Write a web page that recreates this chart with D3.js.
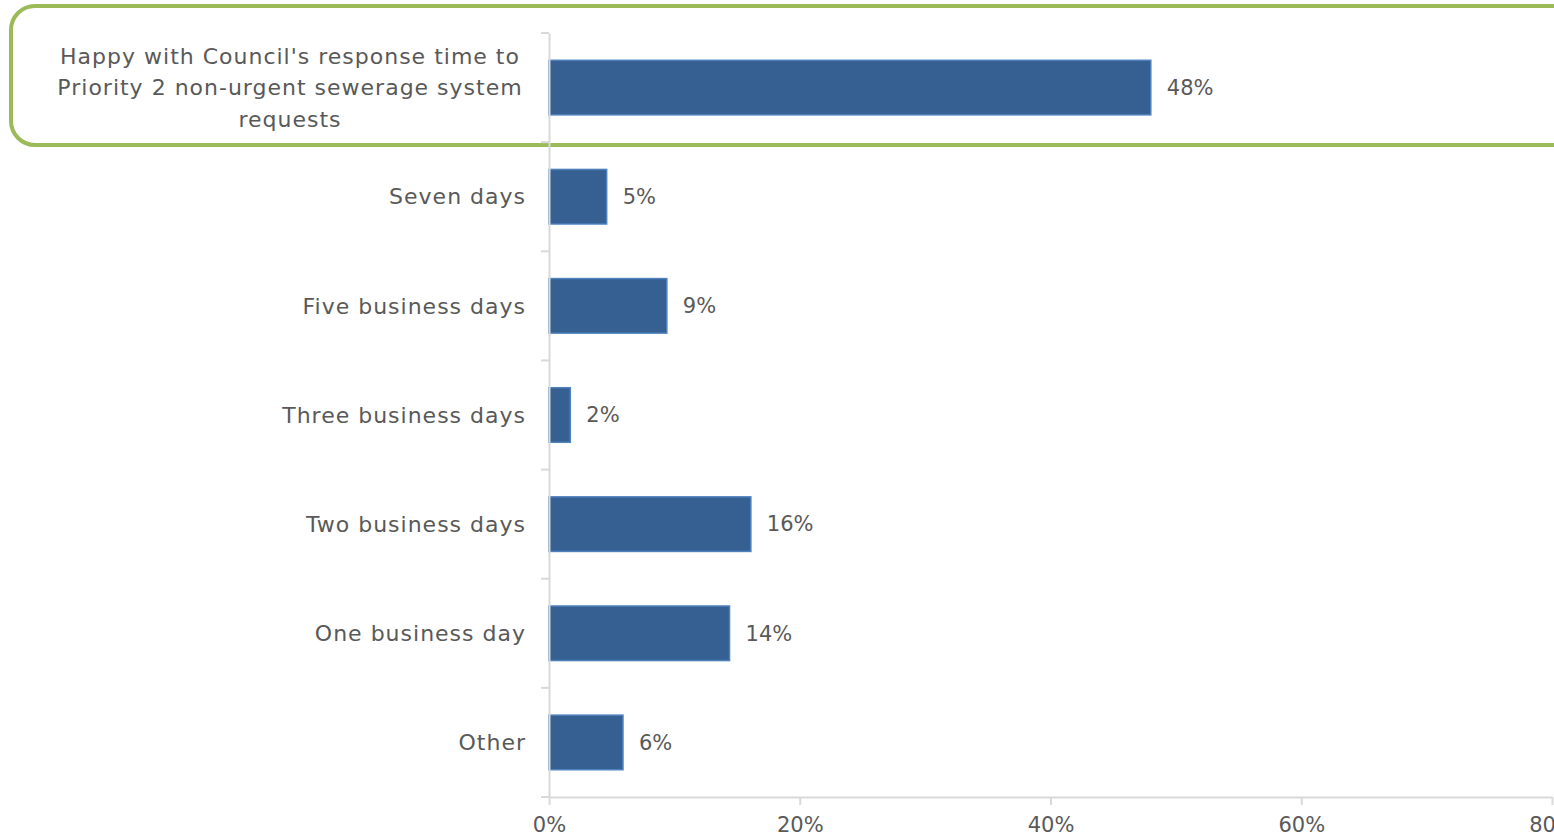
<!DOCTYPE html>
<html>
<head>
<meta charset="utf-8">
<script src="https://cdn.jsdelivr.net/npm/d3@7"></script>
<style>
  html, body { margin: 0; padding: 0; background: #fff; }
  svg { display: block; }
  text { font-family: "DejaVu Sans", sans-serif; fill: #595959; }
</style>
</head>
<body>
<svg id="chart" width="1554" height="838"></svg>
<script>
// Survey responses: preferred response time for Priority 2 non-urgent sewerage requests
const categories = [
  "Happy with Council's response time to Priority 2 non-urgent sewerage system requests",
  "Seven days",
  "Five business days",
  "Three business days",
  "Two business days",
  "One business day",
  "Other"
];
const values = [48.0, 4.6, 9.4, 1.7, 16.1, 14.4, 5.9];
const xTicks = [0, 20, 40, 60, 80];
const highlighted = categories[0];

const svg = d3.select("#chart");
const W = 1554, H = 838;
const margin = { left: 549, right: 2, top: 33, bottom: 41 };
const FONT = "21px";

const x = d3.scaleLinear().domain([0, 80]).range([margin.left, W - margin.right]);
const y = d3.scaleBand().domain(categories)
  .range([margin.top, H - margin.bottom])
  .paddingInner(0.5).paddingOuter(0.25);

// highlight frame around the first row
svg.append("rect")
  .attr("x", 11).attr("y", 6)
  .attr("width", W + 30).attr("height", 139)
  .attr("rx", 24).attr("ry", 24)
  .attr("fill", "none")
  .attr("stroke", "#9BBB59")
  .attr("stroke-width", 4);

// bars
svg.append("g").selectAll("rect")
  .data(categories)
  .join("rect")
  .attr("x", x(0))
  .attr("y", d => y(d))
  .attr("width", (d, i) => x(values[i]) - x(0))
  .attr("height", y.bandwidth())
  .attr("fill", "#366092")
  .attr("stroke", "#4F81BD")
  .attr("stroke-width", 1.5);

// value labels
svg.append("g").selectAll("text")
  .data(categories)
  .join("text")
  .attr("x", (d, i) => x(values[i]) + 16)
  .attr("y", d => y(d) + y.bandwidth() / 2)
  .attr("dy", "0.35em")
  .style("font-size", FONT)
  .text((d, i) => Math.round(values[i]) + "%");

// category axis
const yAxis = d3.axisLeft(y).tickSize(0).tickFormat("");
const gy = svg.append("g").attr("transform", `translate(${x(0)},0)`).call(yAxis);
gy.select(".domain").attr("stroke", "#D9D9D9").attr("stroke-width", 2);
// band separators
const sep = d3.range(categories.length + 1).map(i => margin.top + i * y.step());
svg.append("g").selectAll("line").data(sep).join("line")
  .attr("x1", x(0) - 8).attr("x2", x(0))
  .attr("y1", d => d).attr("y2", d => d)
  .attr("stroke", "#D9D9D9").attr("stroke-width", 2);

// category labels (wrapped, right-aligned; multi-line centered)
const lineH = 31.5;
function wrapLines(txt) {
  if (txt === highlighted) {
    return ["Happy with Council's response time to", "Priority 2 non-urgent sewerage system", "requests"];
  }
  return [txt];
}
categories.forEach(c => {
  const lines = wrapLines(c);
  const cy = y(c) + y.bandwidth() / 2;
  const ax = lines.length > 1 ? 290 : 526;
  const t = svg.append("text")
    .style("font-size", "22px")
    .style("letter-spacing", "1px")
    .attr("text-anchor", lines.length > 1 ? "middle" : "end")
    .attr("x", ax)
    .attr("y", cy - (lines.length - 1) * lineH / 2);
  lines.forEach((l, i) => {
    t.append("tspan")
      .attr("x", ax)
      .attr("dy", i === 0 ? "0.35em" : lineH)
      .text(l);
  });
});

// value axis
const xAxis = d3.axisBottom(x).tickValues(xTicks).tickSize(8).tickSizeOuter(0)
  .tickFormat(d => d + "%");
const gx = svg.append("g").attr("transform", `translate(0,${H - margin.bottom})`).call(xAxis);
gx.select(".domain").attr("stroke", "#D9D9D9").attr("stroke-width", 2);
gx.selectAll(".tick line").attr("stroke", "#D9D9D9").attr("stroke-width", 2);
gx.selectAll(".tick text")
  .attr("y", 20)
  .attr("fill", "#595959")
  .style("font-size", FONT)
  .style("font-family", "\"DejaVu Sans\", sans-serif");
</script>
</body>
</html>
